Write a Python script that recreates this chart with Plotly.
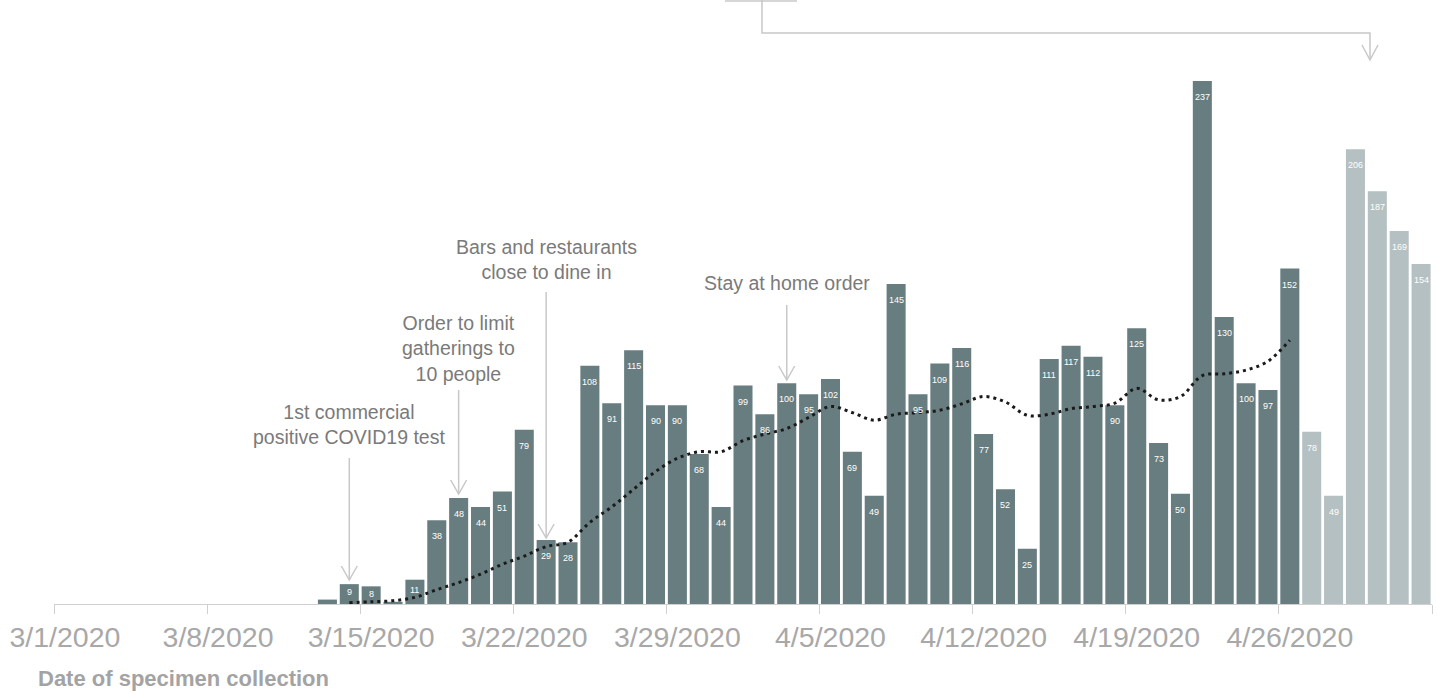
import pandas as pd
import plotly.graph_objects as go

# ---------------- data ----------------
start_date = "2020-03-01"
daily_cases = [
    0, 0, 0, 0, 0, 0, 0, 0, 0, 0, 0, 0,          # 3/1 - 3/12
    2, 9, 8, 1, 11, 38, 48, 44, 51, 79, 29, 28,   # 3/13 - 3/24
    108, 91, 115, 90, 90, 68, 44, 99, 86, 100,    # 3/25 - 4/3
    95, 102, 69, 49, 145, 95, 109, 116, 77, 52,   # 4/4 - 4/13
    25, 111, 117, 112, 90, 125, 73, 50, 237, 130, # 4/14 - 4/23
    100, 97, 152,                                 # 4/24 - 4/26
    78, 49, 206, 187, 169, 154,                   # 4/27 - 5/2 (provisional)
]
provisional_from = "2020-04-27"

avg_start = "2020-03-14"
moving_avg = [
    0.6, 1, 1.5, 3, 6.5, 9.7, 13.5, 18, 21.7, 26, 28, 37,
    44, 52, 60, 66, 69, 69, 74, 77, 79.5, 84.5, 89.5, 86.7,
    83.3, 86, 86.7, 87.8, 90.7, 94, 91.5, 85.5, 86, 88.5,
    89.5, 91, 97.7, 92.5, 94, 103.5, 104.3, 106, 110, 119.5,
]

tick_dates = ["2020-03-01", "2020-03-08", "2020-03-15", "2020-03-22",
              "2020-03-29", "2020-04-05", "2020-04-12", "2020-04-19",
              "2020-04-26", "2020-05-03"]
tick_labels = ["3/1/2020", "3/8/2020", "3/15/2020", "3/22/2020",
               "3/29/2020", "4/5/2020", "4/12/2020", "4/19/2020",
               "4/26/2020", ""]

event_dates = ["2020-03-14", "2020-03-19", "2020-03-23", "2020-04-03"]
event_texts = ["1st commercial<br>positive COVID19 test",
               "Order to limit<br>gatherings to<br>10 people",
               "Bars and restaurants<br>close to dine in",
               "Stay at home order"]

x_title = "Date of specimen collection"

# ---------------- styling ----------------
DARK = "#687d80"
LIGHT = "#b5c0c2"
ARROW = "#c8c8c8"
FONT = "Liberation Sans, Arial, sans-serif"

W, H = 1437, 691
ML, MR, MT, MB = 54, 5, 4, 87
plot_h = H - MT - MB
px_per_unit = 2.207
y_top = plot_h / px_per_unit

dates = pd.date_range(start_date, periods=len(daily_cases), freq="D")
bar_x = dates + pd.Timedelta(hours=12)
colors = [LIGHT if d >= pd.Timestamp(provisional_from) else DARK for d in dates]

avg_dates = pd.date_range(avg_start, periods=len(moving_avg), freq="D") + pd.Timedelta(hours=12)

# labels sit in the middle of the day band, tick marks at day boundaries
label_pos = [pd.Timestamp(t) + pd.Timedelta(hours=12) for t in tick_dates]

fig = go.Figure()
fig.add_trace(go.Bar(
    x=bar_x, y=daily_cases, marker=dict(color=colors, line=dict(width=0)),
    hoverinfo="x+y", showlegend=False,
))
fig.add_trace(go.Scatter(
    x=avg_dates, y=moving_avg, mode="lines",
    line=dict(color="#1a1a1a", width=3, dash="3px,4px", shape="spline"),
    hoverinfo="skip", showlegend=False,
))

annotations = []
# value labels inside bars
for xd, v in zip(bar_x, daily_cases):
    if v >= 5:
        annotations.append(dict(
            x=xd, y=v - min(7.3, 0.42 * v), xref="x", yref="y",
            text=str(v), showarrow=False, yanchor="middle",
            font=dict(family=FONT, size=9, color="white"),
        ))

# event annotations
def py_to_y(py):
    return (MT + plot_h - py) / px_per_unit

event_layout = [  # (text centre py, arrow start py, arrow tip py)
    (424.5, 458, 580),
    (348.5, 390, 494),
    (259.5, 292, 538),
    (283.0, 305, 380),
]
shapes = []
for d, txt, (tpy, a0, a1) in zip(event_dates, event_texts, event_layout):
    xd = pd.Timestamp(d) + pd.Timedelta(hours=12)
    annotations.append(dict(
        x=xd, y=py_to_y(tpy), xref="x", yref="y", text=txt, showarrow=False,
        xanchor="center", yanchor="middle", align="center",
        font=dict(family=FONT, size=19.5, color="#7a7a7a"),
    ))
    shapes.append(dict(type="line", xref="x", yref="y", x0=xd, x1=xd,
                       y0=py_to_y(a0), y1=py_to_y(a1),
                       line=dict(color=ARROW, width=1.5)))
    shapes.append(dict(type="path", xref="x", yref="y",
                       xsizemode="pixel", ysizemode="pixel",
                       xanchor=xd, yanchor=py_to_y(a1),
                       path="M-8,14 L0,0 L8,14",
                       line=dict(color=ARROW, width=1.5)))

# top bracket connector (paper coords)
def px_x(px):
    return (px - ML) / (W - ML - MR)

def px_y(py):
    return (MT + plot_h - py) / plot_h

shapes.append(dict(type="line", xref="paper", yref="paper",
                   x0=px_x(725), x1=px_x(797), y0=px_y(1), y1=px_y(1),
                   line=dict(color=ARROW, width=1.5)))
shapes.append(dict(type="path", xref="paper", yref="paper",
                   path=f"M{px_x(762)},{px_y(0)} L{px_x(762)},{px_y(33)} "
                        f"L{px_x(1370)},{px_y(33)} L{px_x(1370)},{px_y(60)}",
                   line=dict(color=ARROW, width=1.5)))
shapes.append(dict(type="path", xref="paper", yref="paper",
                   path=f"M{px_x(1362)},{px_y(45)} L{px_x(1370)},{px_y(60)} "
                        f"L{px_x(1378)},{px_y(45)}",
                   line=dict(color=ARROW, width=1.5)))

# axis title
annotations.append(dict(
    x=px_x(36), y=px_y(678), xref="paper", yref="paper", text=x_title,
    showarrow=False, xanchor="left", yanchor="middle",
    font=dict(family=FONT, size=22, color="#a3a3a3", weight="bold"),
))

fig.update_layout(
    width=W, height=H,
    margin=dict(l=ML, r=MR, t=MT, b=MB),
    plot_bgcolor="white", paper_bgcolor="white",
    bargap=0.13,
    annotations=annotations, shapes=shapes,
    xaxis=dict(
        type="date", range=["2020-03-01", "2020-05-03"],
        tickmode="array", tickvals=label_pos, ticktext=tick_labels,
        showgrid=False, zeroline=False,
        showline=True, linecolor="#d0d0d0", linewidth=1,
        ticks="", ticklen=9,
        tickfont=dict(family=FONT, size=28.5, color="#a8a8a8"),
        ticklabelstandoff=8,
        minor=dict(tickmode="array", tickvals=tick_dates, ticks="outside",
                   ticklen=9, tickcolor="#d0d0d0", tickwidth=1, showgrid=False),
    ),
    yaxis=dict(range=[0, y_top], visible=False, showgrid=False, zeroline=False),
)

fig.write_html(
    "out.html",
    config={"displayModeBar": False},
    post_script="document.body.style.margin='0px';document.body.style.overflow='hidden';",
)
